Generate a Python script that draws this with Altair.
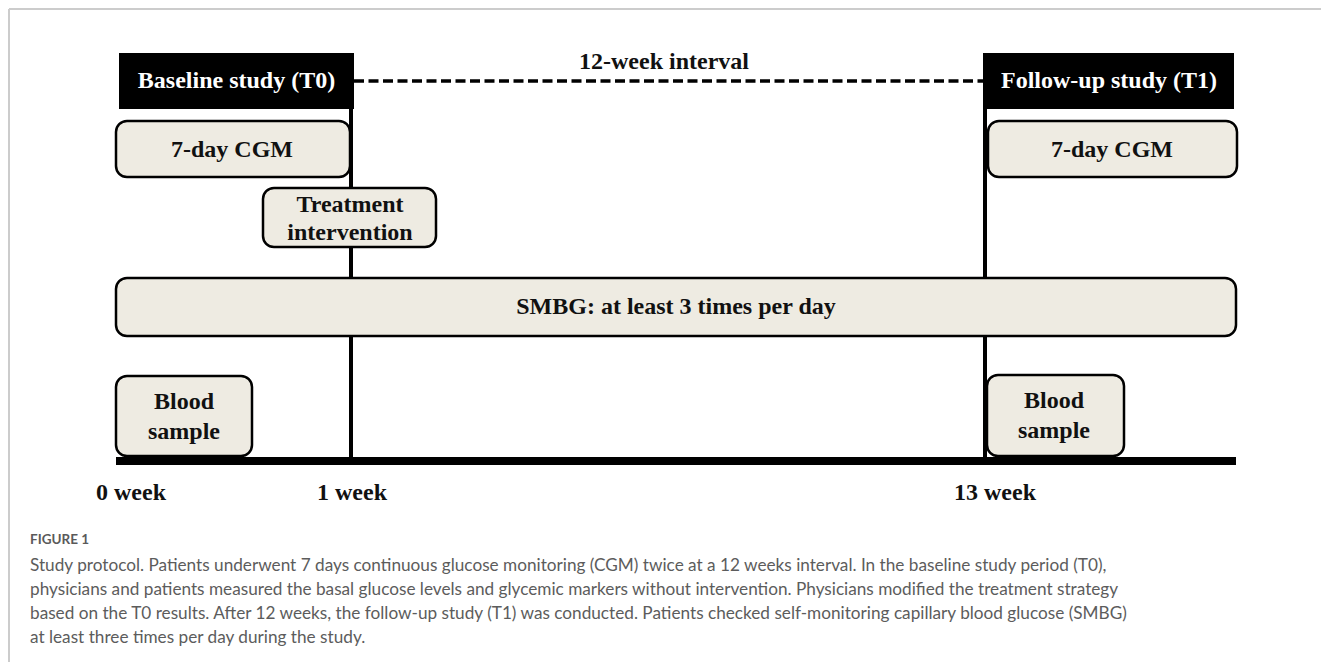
import altair as alt
import pandas as pd

# ---- diagram content (layout units = reference pixels) ----
header_labels = ["Baseline study (T0)", "Follow-up study (T1)"]
header_x0 = [119, 984]
header_x1 = [354, 1234]
header_y0 = [53, 53]
header_y1 = [109, 109]

box_names = ["CGM T0", "Treatment", "SMBG", "Blood T0", "CGM T1", "Blood T1"]
box_x0 = [116, 263, 116, 116, 988, 987]
box_x1 = [350, 436, 1236, 252, 1237, 1124]
box_y0 = [121, 188, 278, 376, 121, 375]
box_y1 = [177, 247, 336, 456, 177, 456]

label_text = ["7-day CGM", "Treatment", "intervention", "SMBG: at least 3 times per day",
              "Blood", "sample", "7-day CGM", "Blood", "sample", "12-week interval",
              "0 week", "1 week", "13 week"]
label_x = [232, 350, 350, 676, 184, 184, 1112, 1054, 1054, 664, 131, 352, 995]
label_y = [150, 205, 233, 307, 402, 432, 150, 401, 431, 62, 493, 493, 493]

week_names = ["1 week", "13 week"]
week_line_x = [351, 985]
week_line_top = [53, 53]
week_line_bottom = [461, 461]

axis_x0 = [116]
axis_x1 = [1236]
axis_y = [461]

interval_x0 = [354]
interval_x1 = [984]
interval_y = [81]

caption_title = "FIGURE 1"
caption_lines = [
    "Study protocol. Patients underwent 7 days continuous glucose monitoring (CGM) twice at a 12 weeks interval. In the baseline study period (T0),",
    "physicians and patients measured the basal glucose levels and glycemic markers without intervention. Physicians modified the treatment strategy",
    "based on the T0 results. After 12 weeks, the follow-up study (T1) was conducted. Patients checked self-monitoring capillary blood glucose (SMBG)",
    "at least three times per day during the study.",
]
caption_y = [566, 590, 614, 638]
caption_title_y = [540]
caption_x = [30]

frame_x0 = [9]
frame_x1 = [1329]
frame_y0 = [9]
frame_y1 = [670]

# ---- tables ----
headers = pd.DataFrame({"label": header_labels, "x0": header_x0, "x1": header_x1,
                        "y0": header_y0, "y1": header_y1})
headers["xc"] = (headers.x0 + headers.x1) / 2
headers["yc"] = (headers.y0 + headers.y1) / 2
boxes = pd.DataFrame({"name": box_names, "x0": box_x0, "x1": box_x1, "y0": box_y0, "y1": box_y1})
labels = pd.DataFrame({"text": label_text, "x": label_x, "y": label_y})
weeks = pd.DataFrame({"name": week_names, "x": week_line_x, "y0": week_line_top, "y1": week_line_bottom})
axis_df = pd.DataFrame({"x0": axis_x0, "x1": axis_x1, "y": axis_y})
interval_df = pd.DataFrame({"x0": interval_x0, "x1": interval_x1, "y": interval_y})
caption_df = pd.DataFrame({"text": caption_lines, "y": caption_y, "x": caption_x * len(caption_lines)})
title_df = pd.DataFrame({"text": [caption_title], "y": caption_title_y, "x": caption_x})
frame_top = pd.DataFrame({"x0": frame_x0, "x1": frame_x1, "y": frame_y0})
frame_left = pd.DataFrame({"x": frame_x0, "y0": frame_y0, "y1": frame_y1})

W, H = 1313, 654
xs = alt.Scale(domain=[8, 8 + W], range=[0, W], nice=False, zero=False)
ys = alt.Scale(domain=[8, 8 + H], range=[0, H], nice=False, zero=False)

def X(f):
    return alt.X(f, type="quantitative", scale=xs, axis=None)

def Y(f):
    return alt.Y(f, type="quantitative", scale=ys, axis=None)

serif = "Liberation Serif"
box_fill = "#eeebe2"

frame1 = alt.Chart(frame_top).mark_rule(color="#cccccc", strokeWidth=2).encode(
    x=X("x0"), x2="x1", y=Y("y"))
frame2 = alt.Chart(frame_left).mark_rule(color="#cccccc", strokeWidth=2).encode(
    x=X("x"), y=Y("y0"), y2="y1")

vlines = alt.Chart(weeks).mark_rule(color="black", strokeWidth=4).encode(
    x=X("x"), y=Y("y0"), y2="y1")
axis_line = alt.Chart(axis_df).mark_rule(color="black", strokeWidth=8).encode(
    x=X("x0"), x2="x1", y=Y("y"))
dashed = alt.Chart(interval_df).mark_rule(color="black", strokeWidth=3.5, strokeDash=[10, 4.5]).encode(
    x=X("x0"), x2="x1", y=Y("y"))

head_rects = alt.Chart(headers).mark_rect(color="black").encode(
    x=X("x0"), x2="x1", y=Y("y0"), y2="y1")
head_text = alt.Chart(headers).mark_text(font=serif, fontWeight="bold", fontSize=24,
                                         color="white", align="center", baseline="middle").encode(
    x=X("xc"), y=Y("yc"), text="label")

box_rects = alt.Chart(boxes).mark_rect(fill=box_fill, stroke="black", strokeWidth=2.5,
                                       cornerRadius=11).encode(
    x=X("x0"), x2="x1", y=Y("y0"), y2="y1")
box_text = alt.Chart(labels).mark_text(font=serif, fontWeight="bold", fontSize=24,
                                       color="#111111", align="center", baseline="middle").encode(
    x=X("x"), y=Y("y"), text="text")

cap_title = alt.Chart(title_df).mark_text(font="Lato", fontSize=13.5, fontWeight="bold", color="#5a5a5a",
                                          align="left", baseline="middle").encode(
    x=X("x"), y=Y("y"), text="text")
cap_text = alt.Chart(caption_df).mark_text(font="Lato", fontSize=17.2, color="#5c5c5c",
                                           align="left", baseline="middle").encode(
    x=X("x"), y=Y("y"), text="text")

chart = alt.layer(frame1, frame2, vlines, axis_line, dashed, head_rects, head_text,
                  box_rects, box_text, cap_title, cap_text).properties(
    width=W, height=H, autosize=alt.AutoSizeParams(type="none"), padding=0
).configure_view(stroke=None)

chart.save("out.html", embed_options={"renderer": "svg", "actions": False})
